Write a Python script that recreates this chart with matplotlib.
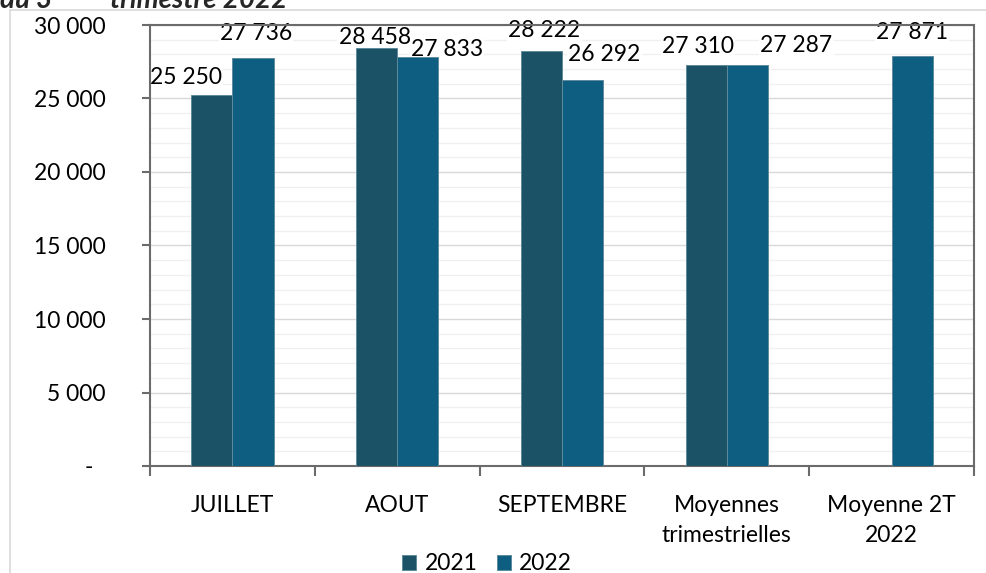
import numpy as np
import matplotlib
matplotlib.use("Agg")
import matplotlib.pyplot as plt
from matplotlib.patches import Rectangle
from matplotlib.ticker import MultipleLocator, FixedLocator

plt.rcParams["font.family"] = ["Lato", "DejaVu Sans"]

CATEGORIES = ["JUILLET", "AOUT", "SEPTEMBRE", "Moyennes\ntrimestrielles", "Moyenne 2T\n2022"]
SERIES = ["2021", "2022"]
V2021 = [25250, 28458, 28222, 27310, np.nan]
V2022 = [27736, 27833, 26292, 27287, 27871]
Y_TICKS = [0, 5000, 10000, 15000, 20000, 25000, 30000]

# label nudges (pixels) relative to the top of each bar, as placed in the source
OFF2021 = [(-26, 17), (-2, 10), (3, 21), (-8, 18), None]
OFF2022 = [(3, 25), (29, 7), (22, 25), (49, 19), (0, 24)]

C2021 = "#1c5266"
C2022 = "#0e5e82"
AXC = "#6b6b6b"
FS = 16.5

fig = plt.figure(figsize=(9.86, 5.73), dpi=100)
ax = fig.add_axes([150 / 986, 1 - 466 / 573, 824 / 986, 441 / 573])

x = np.arange(len(CATEGORIES))
w = 0.25
ax.bar(x - w / 2, V2021, w, color=C2021, edgecolor="#5f8b9c", linewidth=0.7,
       label=SERIES[0], zorder=3)
ax.bar(x + w / 2, V2022, w, color=C2022, edgecolor="#5f8b9c", linewidth=0.7,
       label=SERIES[1], zorder=3)

def fmt(v):
    return f"{v:,.0f}".replace(",", " ")

for xs, vals, offs in [(x - w / 2, V2021, OFF2021), (x + w / 2, V2022, OFF2022)]:
    for xi, v, o in zip(xs, vals, offs):
        if o is None or np.isnan(v):
            continue
        ax.annotate(fmt(v), xy=(xi, v), xytext=o, textcoords="offset pixels",
                    ha="center", va="center", fontsize=FS, color="black", zorder=2.5,
                    bbox=dict(boxstyle="square,pad=0.05", fc="white", ec="none"),
                    annotation_clip=False)

ax.set_xlim(-0.5, len(CATEGORIES) - 0.5)
ax.set_ylim(0, 30000)
ax.set_yticks(Y_TICKS)
ax.set_yticklabels(["-  "] + [fmt(t) for t in Y_TICKS[1:]])
ax.yaxis.set_minor_locator(MultipleLocator(1000))
ax.grid(True, which="major", axis="y", color="#d9d9d9", linewidth=1.0, zorder=0)
ax.grid(True, which="minor", axis="y", color="#f0f0f0", linewidth=1.0, zorder=0)
ax.set_axisbelow(True)

ax.set_xticks(x)
ax.set_xticklabels(CATEGORIES, linespacing=1.5)
ax.xaxis.set_minor_locator(FixedLocator(np.arange(-0.5, len(CATEGORIES), 1.0)))
ax.tick_params(axis="x", which="major", length=0, pad=21, labelsize=FS)
ax.tick_params(axis="x", which="minor", length=7, width=1.5, color=AXC, direction="out")
ax.tick_params(axis="y", which="major", length=6, width=1.5, color=AXC, pad=26, labelsize=FS)
ax.tick_params(axis="y", which="minor", length=0)
for s in ax.spines.values():
    s.set_color(AXC)
    s.set_linewidth(1.5)

fig.legend(loc="center", bbox_to_anchor=(487 / 986, 1 - 564 / 573), ncol=2,
           frameon=False, fontsize=FS, handlelength=0.62, handleheight=0.62,
           handletextpad=0.35, columnspacing=0.85, borderpad=0, borderaxespad=0)

# outer chart border (partly outside the crop)
fig.add_artist(Rectangle((10 / 986, -0.1), 1.2, 1.1 - 10 / 573, transform=fig.transFigure,
                         fill=False, edgecolor="#d9d9d9", linewidth=1.2))

# cropped title
ty = 1 - 8 / 573
fig.text(0, ty, "du 3", fontsize=20, fontweight="bold", style="italic",
         color="#262626", va="baseline")
fig.text(66 / 986, ty + 14 / 573, "ème", fontsize=12, fontweight="bold", style="italic",
         color="#262626", va="baseline")
fig.text(110 / 986, ty, "trimestre 2022", fontsize=20, fontweight="bold", style="italic",
         color="#262626", va="baseline")

fig.savefig("out.png", dpi=100, facecolor="white")
